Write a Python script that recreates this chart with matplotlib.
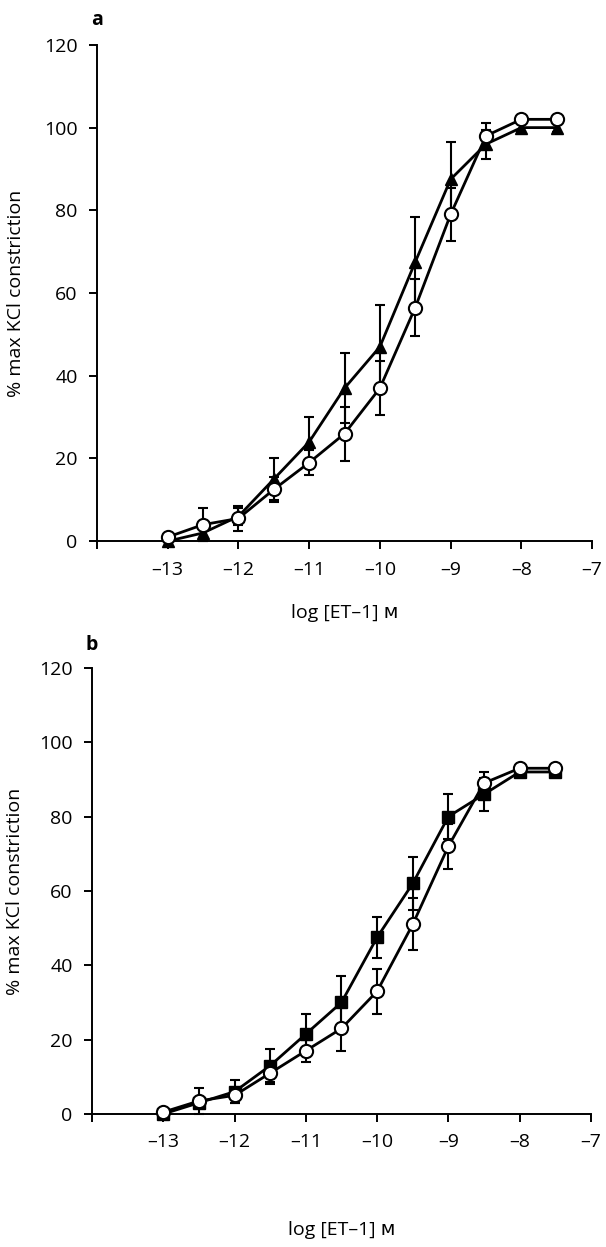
import numpy as np
import matplotlib; matplotlib.use("Agg")
import matplotlib.pyplot as plt
plt.rcParams.update({"font.family":["Open Sans","DejaVu Sans"],"font.size":14,"axes.linewidth":1.4})

logc=[-13,-12.5,-12,-11.5,-11,-10.5,-10,-9.5,-9,-8.5,-8,-7.5]
# panel a
a_tri=[0,2,6,15,24,37,47,67.5,87.5,96,100,100]
a_tri_err=[0,2,2,5,6,8.5,10,11,9,3.5,1,1]
a_circ=[1,4,5.5,12.5,19,26,37,56.5,79,98,102,102]
a_circ_err=[0.5,4,3,3,3,6.5,6.5,7,6.3,3,1,1]
# panel b
b_sq=[0,3,6,13,21.5,30,47.5,62,80,86,92,92]
b_sq_err=[0,1,3,4.5,5.5,7,5.5,7,6,4.5,1,1]
b_circ=[0.5,3.5,5,11,17,23,33,51,72,89,93,93]
b_circ_err=[0.5,3.5,2,3,3,6,6,7,6,3,0.5,0.5]

xticks=list(range(-14,-6))
xticklabels=[""]+["\u2013%d"%(-t) for t in xticks[1:]]

fig=plt.figure(figsize=(6.06,12.47),dpi=100)
axa=fig.add_axes([0.160,0.566,0.817,0.398])
axb=fig.add_axes([0.152,0.1067,0.823,0.3577])

def draw(ax,filled,ferr,fmark,fms,open_,oerr,label,xpad,ypad):
    ax.errorbar(logc,filled,yerr=ferr,fmt="none",ecolor="k",elinewidth=1.5,capsize=3.5,capthick=1.5,zorder=2,clip_on=False)
    ax.errorbar(logc,open_,yerr=oerr,fmt="none",ecolor="k",elinewidth=1.5,capsize=3.5,capthick=1.5,zorder=2,clip_on=False)
    ax.plot(logc,filled,"-",color="k",lw=2.0,marker=fmark,ms=fms,mfc="k",mec="k",zorder=3,clip_on=False)
    ax.plot(logc,open_,"-",color="k",lw=2.0,marker="o",ms=9.5,mfc="white",mec="k",mew=1.5,zorder=4,clip_on=False)
    ax.set_xlim(-14,-7); ax.set_ylim(0,120)
    ax.set_xticks(xticks); ax.set_xticklabels(xticklabels)
    ax.set_yticks(range(0,121,20))
    ax.spines["top"].set_visible(False); ax.spines["right"].set_visible(False)
    ax.tick_params(direction="out",length=6,width=1.4,pad=8)
    ax.set_xlabel("log [ET\u20131] \u1d0d",labelpad=xpad)
    ax.set_ylabel("% max KCl constriction",labelpad=ypad)
    ax.text(0.0,1.03,label,transform=ax.transAxes,fontweight="bold",fontsize=14,ha="center",va="bottom")

draw(axa,a_tri,a_tri_err,"^",9,a_circ,a_circ_err,"a",18,13.5)
draw(axb,b_sq,b_sq_err,"s",8.5,b_circ,b_circ_err,"b",50,10.5)

fig.savefig("out.png",dpi=100)
